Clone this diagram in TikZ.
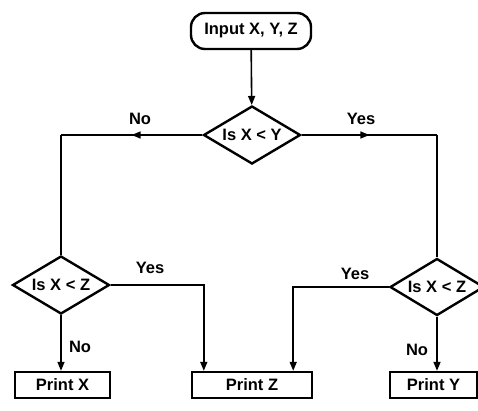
\documentclass[tikz,border=0pt]{standalone}
\usepackage{fontspec}
\setmainfont{Liberation Sans}
\usetikzlibrary{shapes.geometric,arrows.meta,decorations.markings}

\tikzset{
  txt/.style={font=\fontsize{16.5}{19}\selectfont\bfseries},
  term/.style={txt, draw, line width=2.4pt, rectangle, rounded corners=14pt,
    minimum width=120pt, minimum height=36pt, inner sep=0pt},
  decision/.style={txt, draw, line width=2.4pt, diamond, aspect=1.7,
    minimum width=97pt, minimum height=58pt, inner sep=0pt},
  outbox/.style={txt, draw, line width=2.4pt, rectangle,
    minimum height=26pt, inner sep=0pt},
  tip/.style={-{Triangle[length=9pt,width=7pt]}},
  flow/.style={line width=1.6pt},
  flowarrow/.style={flow, tip},
  midarrow/.style={flow, postaction={decorate}, decoration={markings,
    mark=at position 0.5 with {\arrow{Triangle[length=9pt,width=7pt]}}}},
  lbl/.style={txt}
}

\begin{document}
\begin{tikzpicture}[x=1pt,y=-1pt]
\useasboundingbox (0,0) rectangle (478,410);

% start and decisions
\node[term] (in) at (251,31) {Input X, Y, Z};
\node[decision] (d1) at (252,135) {Is X < Y};
\node[decision] (d2) at (61,285) {Is X < Z};
\node[decision, minimum width=94pt, minimum height=57pt] (d3) at (437,287) {Is X < Z};

% outputs
\node[outbox, minimum width=95pt] (px) at (62.5,385) {Print X};
\node[outbox, minimum width=120pt] (pz) at (252,385) {Print Z};
\node[outbox, minimum width=87pt] (py) at (433.5,385) {Print Y};

% corners of the branches from the first test
\coordinate (cL) at (d2.north |- d1.west);
\coordinate (cR) at (d3.north |- d1.east);

\draw[flowarrow] (in) -- (d1);
\draw[midarrow] (d1.west) -- (cL);
\draw[flow] (cL) -- (d2.north);
\draw[midarrow] (d1.east) -- (cR);
\draw[flow] (cR) -- (d3.north);

\draw[flowarrow] (d2.east) -| ([xshift=13pt]pz.north west);
\draw[flowarrow] (d2.south) -- (px.north -| d2.south);
\draw[flowarrow] (d3.west) -| ([xshift=-20pt]pz.north east);
\draw[flowarrow] (d3.south) -- (py.north -| d3.south);

% branch labels
\node[lbl] (l1) at (140,119) {No};
\node[lbl] (l2) at (361,119) {Yes};
\node[lbl] (l3) at (150,268) {Yes};
\node[lbl] (l4) at (80,347) {No};
\node[lbl] (l5) at (355,274) {Yes};
\node[lbl] (l6) at (417,350) {No};
\end{tikzpicture}
\end{document}
